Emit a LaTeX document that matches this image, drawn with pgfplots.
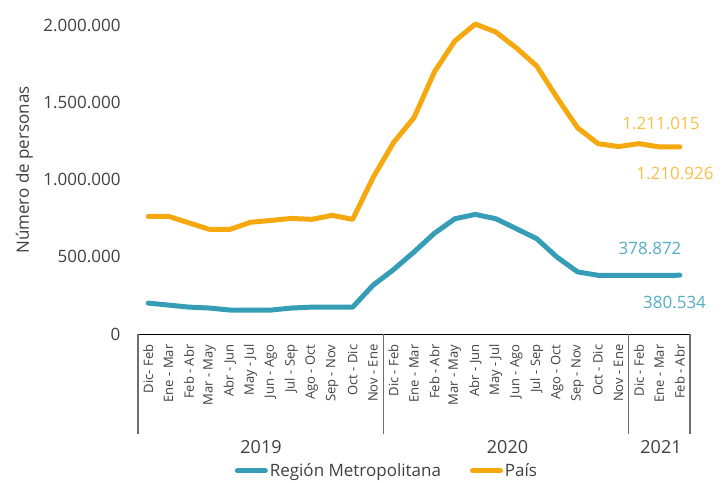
\documentclass[border=0pt]{standalone}
\usepackage{fontspec}
\setmainfont{Open Sans}
\usepackage{pgfplots}
\usepackage{pgfplotstable}
\pgfplotsset{compat=1.18}
\definecolor{cblue}{HTML}{359EB6}
\definecolor{cyel}{HTML}{F5A90F}
\definecolor{lblue}{HTML}{52AEC4}
\definecolor{lyel}{HTML}{F8BE4A}
\definecolor{txt}{HTML}{404040}
\definecolor{sep}{HTML}{6E6E6E}

\pgfplotstableread{
x rm pais
0 200000 761000
1 187000 761000
2 174000 719000
3 168000 677000
4 155000 677000
5 155000 723000
6 155000 735000
7 168000 748000
8 174000 742000
9 174000 768000
10 174000 742000
11 316000 1013000
12 417000 1239000
13 531000 1400000
14 652000 1697000
15 746000 1897000
16 774000 2006000
17 746000 1955000
18 682000 1852000
19 617000 1735000
20 497000 1529000
21 402000 1335000
22 380000 1232000
23 379000 1213000
24 379000 1232000
25 378872 1211015
26 380534 1210926
}\data

\begin{document}
\begin{tikzpicture}[x=1pt,y=1pt]
\useasboundingbox (0,0) rectangle (725,482);
\begin{axis}[
  scale only axis, width=552pt, height=309pt,
  at={(138pt,148pt)}, anchor=south west,
  xmin=-0.5, xmax=26.5, ymin=0, ymax=2000000,
  clip=false,
  axis line style={draw=none},
  tick style={draw=none},
  scaled y ticks=false,
  xtick={0,...,26},
  xticklabels={Dic- Feb, Ene - Mar, Feb - Abr, Mar - May, Abr - Jun, May - Jul, Jun - Ago, Jul - Sep, Ago - Oct, Sep - Nov, Oct - Dic, Nov - Ene,
    Dic - Feb, Ene - Mar, Feb - Abr, Mar - May, Abr - Jun, May - Jul, Jun - Ago, Jul - Sep, Ago - Oct, Sep - Nov, Oct - Dic, Nov - Ene,
    Dic - Feb, Ene - Mar, Feb - Abr},
  xticklabel style={rotate=90, anchor=east, font=\fontsize{13}{13}\selectfont, text=txt},
  xticklabel shift=7pt,
  ytick={0,500000,1000000,1500000,2000000},
  yticklabels={0,500.000,1.000.000,1.500.000,2.000.000},
  yticklabel style={font=\fontsize{17}{17}\selectfont, text=txt},
  yticklabel shift=14pt,
  legend style={at={(0.451,-0.443)}, anchor=center, draw=none, fill=none,
    legend columns=2, font=\fontsize{17}{17}\selectfont, text=txt,
    /tikz/every even column/.append style={column sep=27pt}},
  legend image code/.code={\draw[#1, line width=5pt, line cap=round] (0pt,0pt) -- (28pt,0pt);},
]
\addplot[cblue, line width=5pt, line cap=round, line join=round] table[x=x, y=rm] {\data};
\addlegendentry{Región Metropolitana}
\addplot[cyel, line width=5pt, line cap=round, line join=round] table[x=x, y=pais] {\data};
\addlegendentry{País}
\draw[black, line width=1pt] (axis cs:-0.5,0) -- (axis cs:26.5,0);
\draw[sep, line width=1.4pt] (axis cs:-0.5,0) -- ([yshift=-100pt]axis cs:-0.5,0);
\draw[sep, line width=1.4pt] (axis cs:11.5,0) -- ([yshift=-100pt]axis cs:11.5,0);
\draw[sep, line width=1.4pt] (axis cs:23.5,0) -- ([yshift=-100pt]axis cs:23.5,0);
\draw[sep, line width=1.4pt] (axis cs:26.5,0) -- ([yshift=-100pt]axis cs:26.5,0);
\end{axis}
\node[font=\fontsize{17}{17}\selectfont, text=txt, rotate=90] at (24.5,312) {Número de personas};
\node[font=\fontsize{18}{18}\selectfont, text=txt] at (261,35) {2019};
\node[font=\fontsize{18}{18}\selectfont, text=txt] at (507.5,35) {2020};
\node[font=\fontsize{18}{18}\selectfont, text=txt] at (661,35) {2021};
\node[font=\fontsize{17}{17}\selectfont, text=lyel] at (661,359) {1.211.015};
\node[font=\fontsize{17}{17}\selectfont, text=lyel] at (675,309) {1.210.926};
\node[font=\fontsize{17}{17}\selectfont, text=lblue] at (650,234) {378.872};
\node[font=\fontsize{17}{17}\selectfont, text=lblue] at (674.5,180) {380.534};
\end{tikzpicture}
\end{document}
